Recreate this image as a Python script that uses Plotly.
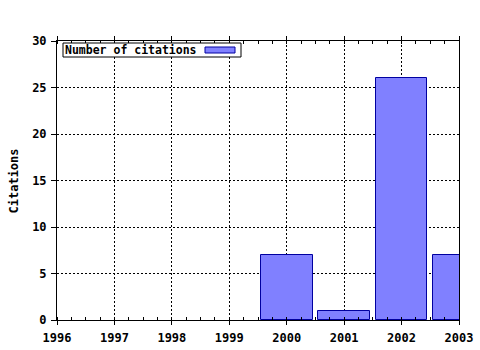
import plotly.graph_objects as go

years = [2000, 2001, 2002, 2003]
citations = [7, 1, 26, 7]
year_ticks = [1996, 1997, 1998, 1999, 2000, 2001, 2002, 2003]
y_ticks = [0, 5, 10, 15, 20, 25, 30]
series_name = "Number of citations"
y_title = "Citations"

FONT = dict(family="DejaVu Sans Mono", size=12, color="black", weight="bold")
LFONT = dict(family="DejaVu Sans Mono", size=11.5, color="black", weight="bold")
GRIDDASH = "2px,2px"

fig = go.Figure()
fig.add_trace(go.Bar(
    x=years, y=citations, width=0.9, name=series_name,
    marker=dict(color="#8080ff", line=dict(color="#0000a0", width=1)),
    showlegend=False, cliponaxis=True,
))

fig.update_layout(
    width=480, height=350,
    margin=dict(l=57, r=21, t=41, b=30, autoexpand=False),
    paper_bgcolor="white", plot_bgcolor="white",
    font=FONT,
    xaxis=dict(
        range=[1996, 2003], tickvals=year_ticks, ticktext=[str(v) for v in year_ticks],
        showgrid=True, gridcolor="black", griddash=GRIDDASH, gridwidth=1,
        showline=True, linecolor="black", linewidth=1, mirror="ticks",
        ticks="outside", ticklen=4, tickcolor="black", ticklabelstandoff=3,
        minor=dict(dtick=0.25, ticks="inside", ticklen=3, tickcolor="black", showgrid=False),
        zeroline=False, tickfont=FONT, automargin=False,
    ),
    yaxis=dict(
        range=[0, 30], tickvals=y_ticks,
        showgrid=True, gridcolor="black", griddash=GRIDDASH, gridwidth=1,
        showline=True, linecolor="black", linewidth=1, mirror=True,
        ticks="outside", ticklen=5, tickcolor="black", ticklabelstandoff=2,
        zeroline=False, tickfont=FONT, automargin=False,
    ),
    bargap=0,
)

# y axis title
fig.add_annotation(
    text=y_title, textangle=-90, xref="paper", yref="paper",
    x=-0.107, y=0.5, xanchor="center", yanchor="middle",
    showarrow=False, font=FONT,
)

# Legend box (text left, swatch right)
W = 402.0
H = 279.0
def px(xp):
    return (xp - 57) / W
def py(yp):
    return (320 - yp) / H

fig.add_shape(type="rect", xref="paper", yref="paper",
              x0=px(63), x1=px(241), y0=py(57), y1=py(43),
              line=dict(color="black", width=1), fillcolor="white", layer="above")
fig.add_annotation(text=series_name, xref="paper", yref="paper",
                   x=px(63), y=py(50), xanchor="left", yanchor="middle",
                   showarrow=False, font=LFONT)
fig.add_shape(type="rect", xref="paper", yref="paper",
              x0=px(205), x1=px(235), y0=py(53), y1=py(47),
              line=dict(color="#0000a0", width=1), fillcolor="#8080ff", layer="above")

fig.write_html("out.html")
